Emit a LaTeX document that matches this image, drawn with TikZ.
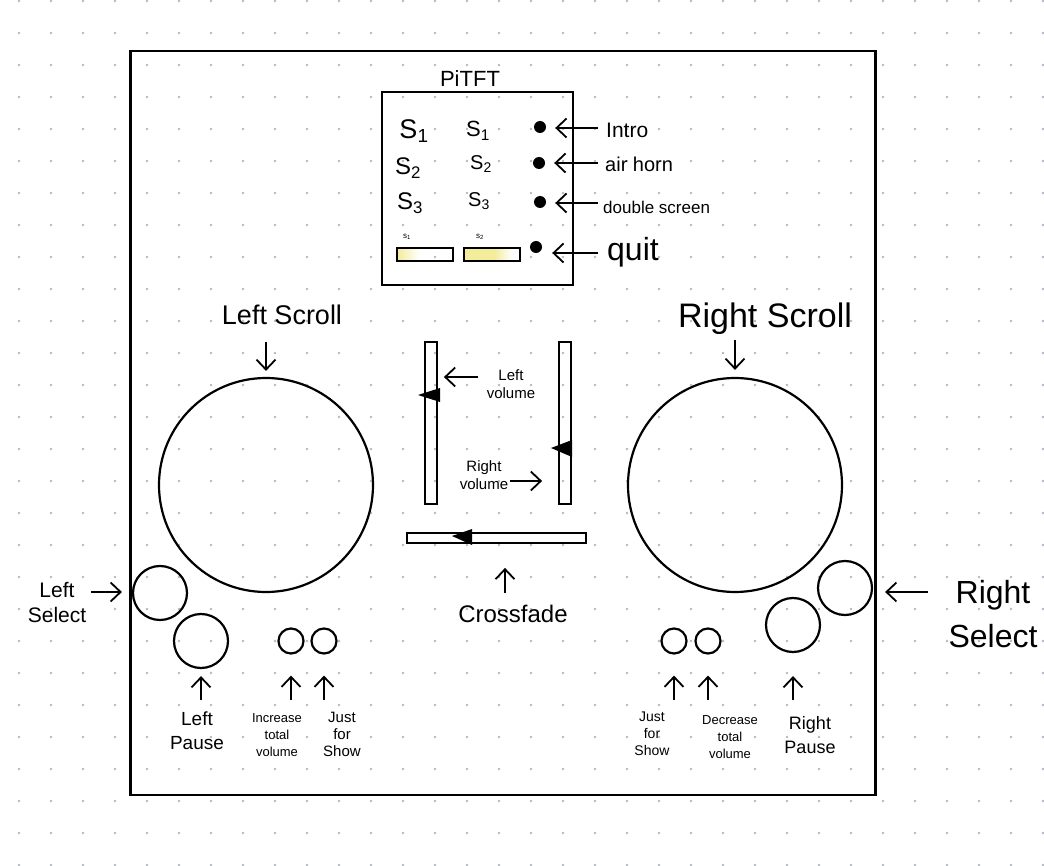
\documentclass[tikz,border=0pt]{standalone}
\usepackage{fontspec}
\setmainfont{Liberation Sans}
\usetikzlibrary{arrows.meta}
\newcommand\fsz[2]{\fontsize{#1}{#2}\selectfont}
\definecolor{dotc}{HTML}{B4B8C2}
\definecolor{yel}{HTML}{F3EC9A}
\begin{document}
\begin{tikzpicture}[x=1pt,y=-1pt,
  arr/.style={-{Straight Barb[length=10pt,width=19pt]}, line width=1.8pt},
  btn/.style={circle, draw, line width=2.2pt, inner sep=0pt},
  lbl/.style={align=center, inner sep=0pt},
  slider/.style={draw, line width=1.8pt, inner sep=0pt},
  pdot/.style={circle, fill=black, inner sep=0pt, minimum size=12pt},
  knob/.style={fill=black}]
% background and dot grid
\fill[white] (0,0) rectangle (1044,866);
\useasboundingbox (0,0) rectangle (1044,866);
\foreach \i in {0,...,32}{\foreach \j in {0,...,27}{\fill[dotc] (19+32*\i,1+32*\j) circle (1.3);}}
% main box
\node[draw, line width=2.6pt, inner sep=0pt, minimum width=745pt, minimum height=744pt] (box) at (503,423) {};
% PiTFT
\node[draw, line width=2.2pt, inner sep=0pt, minimum width=191pt, minimum height=193pt] (tft) at (477.5,188.5) {};
\node[lbl, font=\fsz{22}{26}] (title) at (470,79) {PiTFT};
\node[lbl, font=\fsz{27}{30}] (s1a) at (414,131) {S\textsubscript{1}};
\node[lbl, font=\fsz{22}{26}] (s1b) at (478,131) {S\textsubscript{1}};
\node[lbl, font=\fsz{24}{28}] (s2a) at (408,168) {S\textsubscript{2}};
\node[lbl, font=\fsz{20}{24}] (s2b) at (481,164) {S\textsubscript{2}};
\node[lbl, font=\fsz{24}{28}] (s3a) at (410,203) {S\textsubscript{3}};
\node[lbl, font=\fsz{20}{24}] (s3b) at (479,201) {S\textsubscript{3}};
% volume bars on the screen
\shade[left color=yel, right color=white] (397,248) rectangle (420,261);
\fill[yel] (464,248) rectangle (494,261);
\shade[left color=yel, right color=white] (494,248) rectangle (512,261);
\node[slider, line width=1.6pt, minimum width=56pt, minimum height=13pt] (b1) at (425,254.5) {};
\node[slider, line width=1.6pt, minimum width=56pt, minimum height=13pt] (b2) at (492,254.5) {};
\node[lbl, font=\fsz{8}{9}] (b1l) at (407,237) {s\textsubscript{1}};
\node[lbl, font=\fsz{8}{9}] (b2l) at (480,237) {s\textsubscript{2}};
% buttons on the screen
\node[pdot] (d1) at (540,127) {};
\node[pdot] (d2) at (539,163) {};
\node[pdot] (d3) at (540,202) {};
\node[pdot] (d4) at (536,247) {};
\node[lbl, font=\fsz{21}{24}, anchor=west] (intro) at (606,130) {Intro};
\node[lbl, font=\fsz{20}{24}, anchor=west] (horn) at (605,164) {air horn};
\node[lbl, font=\fsz{17}{20}, anchor=west] (dscr) at (603,207) {double screen};
\node[lbl, font=\fsz{32}{36}, anchor=west] (quit) at (607,252) {quit};
\coordinate (a1) at (598,128);
\coordinate (a2) at (598,163);
\coordinate (a3) at (598,203);
\coordinate (a4) at (598,253);
\draw[arr, shorten >=9pt] (a1) -- (a1 -| d1.east);
\draw[arr, shorten >=9pt] (a2) -- (a2 -| d2.east);
\draw[arr, shorten >=9pt] (a3) -- (a3 -| d3.east);
\draw[arr, shorten >=10pt] (a4) -- (a4 -| d4.east);
% scroll wheels
\node[btn, minimum size=214pt] (lc) at (266,485) {};
\node[btn, minimum size=214pt] (rc) at (735,485) {};
\node[lbl, font=\fsz{27}{30}] (lsl) at (282,315) {Left Scroll};
\node[lbl, font=\fsz{34}{38}] (rsl) at (765,319) {Right Scroll};
\coordinate (lsa) at (266,342);
\coordinate (rsa) at (735,340);
\draw[arr, shorten >=6pt] (lsa) -- (lc.north);
\draw[arr, shorten >=7pt] (rsa) -- (rc.north);
% sliders
\node[slider, minimum width=12pt, minimum height=162pt] (lv) at (431,423) {};
\node[slider, minimum width=12pt, minimum height=162pt] (rv) at (565,423) {};
\node[slider, minimum width=179pt, minimum height=10pt] (xf) at (496.5,538) {};
\fill[knob] (418,395) -- (440,388) -- (440,402) -- cycle;
\fill[knob] (551,448) -- (572,440) -- (572,457) -- cycle;
\fill[knob] (452,536) -- (472,529) -- (472,545) -- cycle;
\node[lbl, font=\fsz{15}{18}] (lvl) at (511,384) {Left\\volume};
\node[lbl, font=\fsz{15}{18}] (rvl) at (484,475) {Right\\volume};
\node[lbl, font=\fsz{24}{28}] (cfl) at (513,614) {Crossfade};
\coordinate (lva) at (478,377);
\coordinate (rva) at (510,481);
\coordinate (cfa) at (505,593);
\draw[arr, shorten >=6pt] (lva) -- (lva -| lv.east);
\draw[arr, shorten >=16pt] (rva) -- (rva -| rv.west);
\draw[arr, shorten >=24pt] (cfa) -- (cfa |- xf.south);
% left buttons
\node[btn, minimum size=54pt] (lsel) at (160,593) {};
\node[btn, minimum size=54pt] (lpau) at (201,641) {};
\node[btn, minimum size=25pt] (linc) at (291,641) {};
\node[btn, minimum size=25pt] (ljfs) at (324,641) {};
\node[lbl, font=\fsz{21}{25}] (lsell) at (57,603) {Left\\Select};
\node[lbl, font=\fsz{19}{24}] (lpaul) at (197,731) {Left\\Pause};
\node[lbl, font=\fsz{13}{17}] (lincl) at (277,735) {Increase\\total\\volume};
\node[lbl, font=\fsz{15}{17}] (ljfsl) at (342,734) {Just\\for\\Show};
\coordinate (lsela) at (91,592);
\coordinate (lpaua) at (201,700);
\coordinate (linca) at (291,700);
\coordinate (ljfsa) at (324,700);
\draw[arr, shorten >=10pt] (lsela) -- (lsela -| lsel.west);
\draw[arr, shorten >=7pt] (lpaua) -- (lpau.south);
\draw[arr, shorten >=21pt] (linca) -- (linc.south);
\draw[arr, shorten >=21pt] (ljfsa) -- (ljfs.south);
% right buttons
\node[btn, minimum size=54pt] (rsel) at (845,588) {};
\node[btn, minimum size=54pt] (rpau) at (793,625) {};
\node[btn, minimum size=25pt] (rjfs) at (674,641) {};
\node[btn, minimum size=25pt] (rdec) at (708,641) {};
\node[lbl, font=\fsz{32}{44}] (rsell) at (993,614) {Right\\Select};
\node[lbl, font=\fsz{18}{24}] (rpaul) at (810,735) {Right\\Pause};
\node[lbl, font=\fsz{14}{17}] (rjfsl) at (652,734) {Just\\for\\Show};
\node[lbl, font=\fsz{13}{17}] (rdecl) at (730,737) {Decrease\\total\\volume};
\coordinate (rsela) at (928,592);
\coordinate (rpaua) at (793,700);
\coordinate (rjfsa) at (674,700);
\coordinate (rdeca) at (708,700);
\draw[arr, shorten >=12pt] (rsela) -- (rsela -| rsel.east);
\draw[arr, shorten >=23pt] (rpaua) -- (rpau.south);
\draw[arr, shorten >=21pt] (rjfsa) -- (rjfs.south);
\draw[arr, shorten >=21pt] (rdeca) -- (rdec.south);
\end{tikzpicture}
\end{document}
